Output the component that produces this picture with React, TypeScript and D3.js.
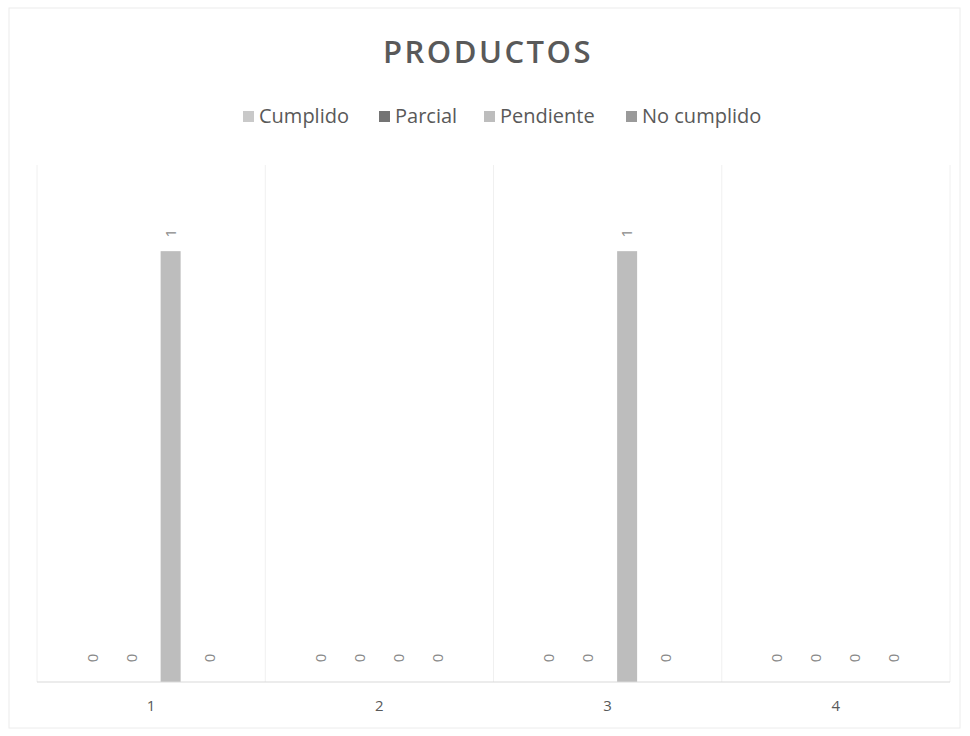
import * as d3 from "d3";

const categories = ["1", "2", "3", "4"];
const seriesNames = ["Cumplido", "Parcial", "Pendiente", "No cumplido"];
const seriesColors = ["#c9c9c9", "#747474", "#bdbdbd", "#9a9a9a"];
// values per series, one per category
const cumplido = [0, 0, 0, 0];
const parcial = [0, 0, 0, 0];
const pendiente = [1, 0, 1, 0];
const noCumplido = [0, 0, 0, 0];
const yTicks = [0, 0.2, 0.4, 0.6, 0.8, 1, 1.2];

const seriesValues = [cumplido, parcial, pendiente, noCumplido];

const width = 970;
const height = 736;
const plot = { left: 37, right: 950, top: 165, bottom: 682 };

export default function App() {
  const x0 = d3
    .scaleBand<string>()
    .domain(categories)
    .range([plot.left, plot.right])
    .padding(0);

  const groupW = 156;
  const x1 = d3
    .scaleBand<string>()
    .domain(seriesNames)
    .range([0, groupW])
    .padding(0);

  const barW = 20;

  const y = d3
    .scaleLinear()
    .domain([0, d3.max(yTicks) as number])
    .range([plot.bottom, plot.top]);

  const font = "'Open Sans', 'Liberation Sans', sans-serif";

  // legend layout
  const legendX = [243, 379, 484, 626];

  return (
    <svg
      width={width}
      height={height}
      style={{ position: "absolute", left: 0, top: 0, background: "#fff" }}
    >
      <rect x={0} y={0} width={width} height={height} fill="#fff" />
      {/* chart frame */}
      <rect
        x={9}
        y={8}
        width={951}
        height={720}
        fill="none"
        stroke="#ececec"
        strokeWidth={1}
      />

      <text
        x={488}
        y={63}
        textAnchor="middle"
        fontFamily={font}
        fontSize={31}
        fontWeight={600}
        letterSpacing={2.5}
        fill="#595959"
      >
        PRODUCTOS
      </text>

      {/* legend */}
      {seriesNames.map((s, i) => (
        <g key={s} transform={`translate(${legendX[i]},123)`}>
          <rect x={0} y={-12} width={11} height={11} fill={seriesColors[i]} />
          <text
            x={16}
            y={0}
            fontFamily={font}
            fontSize={20}
            fill="#595959"
          >
            {s}
          </text>
        </g>
      ))}

      {/* vertical grid lines at category boundaries */}
      {categories.map((c) => (
        <line
          key={"g" + c}
          x1={x0(c)!}
          x2={x0(c)!}
          y1={plot.top}
          y2={plot.bottom}
          stroke="#f0f0f0"
        />
      ))}
      <line
        x1={plot.right}
        x2={plot.right}
        y1={plot.top}
        y2={plot.bottom}
        stroke="#f0f0f0"
      />

      {/* bars + labels */}
      {categories.map((c, ci) => {
        const bx = x0(c)! + (x0.bandwidth() - groupW) / 2;
        return (
          <g key={c} transform={`translate(${bx},0)`}>
            {seriesNames.map((s, si) => {
              const v = seriesValues[si][ci];
              const cx = x1(s)! + x1.bandwidth() / 2;
              return (
                <g key={s}>
                  <rect
                    x={cx - barW / 2}
                    y={y(v)}
                    width={barW}
                    height={y(0) - y(v)}
                    fill={seriesColors[si]}
                  />
                  <text
                    transform={`translate(${cx + 5},${y(v) - (v > 0 ? 18 : 24)}) rotate(-90)`}
                    textAnchor="middle"
                    fontFamily={font}
                    fontSize={15}
                    fill="#8a8a8a"
                  >
                    {v}
                  </text>
                </g>
              );
            })}
          </g>
        );
      })}

      {/* x axis */}
      <line
        x1={plot.left}
        x2={plot.right}
        y1={plot.bottom}
        y2={plot.bottom}
        stroke="#d9d9d9"
      />
      {categories.map((c) => (
        <text
          key={"t" + c}
          x={x0(c)! + x0.bandwidth() / 2}
          y={711}
          textAnchor="middle"
          fontFamily={font}
          fontSize={15}
          fill="#595959"
        >
          {c}
        </text>
      ))}
    </svg>
  );
}
